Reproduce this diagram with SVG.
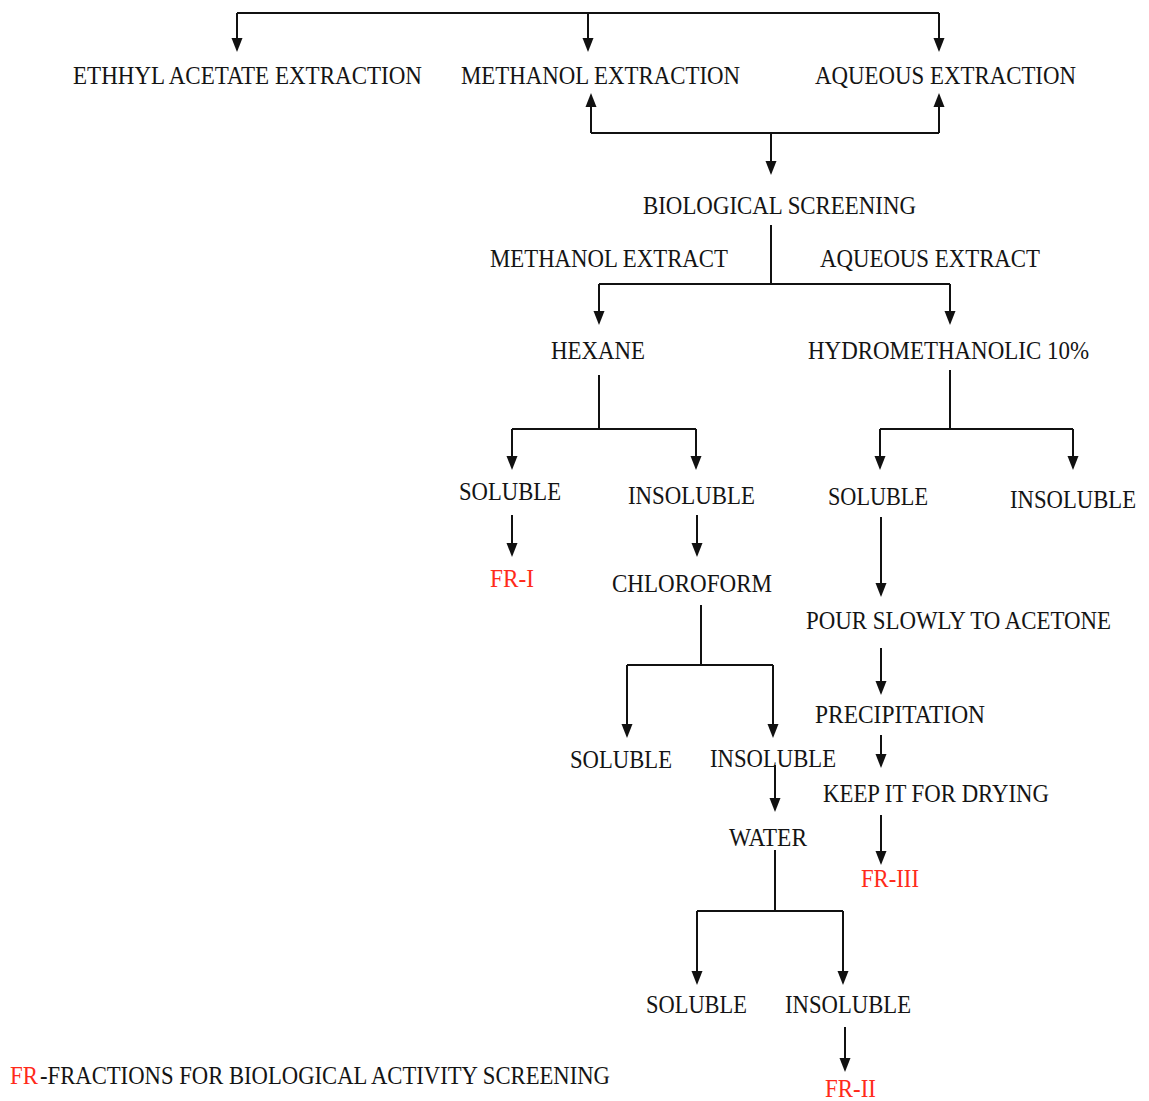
<svg xmlns="http://www.w3.org/2000/svg" width="1149" height="1101" viewBox="0 0 1149 1101">
  <style>
    .lbl { font-family: "Liberation Serif", "Times New Roman", serif; font-size: 25px; fill: #141414; text-anchor: middle; }
    .key { text-anchor: start; }
    .fr { fill: #ff2a1a; }
    .wire { fill: none; stroke: #111; stroke-width: 2; }
    .arr { marker-end: url(#head); }
  </style>
  <defs>
    <marker id="head" markerUnits="userSpaceOnUse" markerWidth="14" markerHeight="12" refX="8" refY="6" orient="auto">
      <path d="M0,0.5 L14,6 L0,11.5 z" fill="#111"/>
    </marker>
  </defs>
  <rect width="1149" height="1101" fill="#fff"/>

  <!-- connectors -->
  <g id="connectors">
    <path class="wire" d="M237,13 H939"/>
    <path class="wire arr" d="M237,13 V46"/>
    <path class="wire arr" d="M588,13 V46"/>
    <path class="wire arr" d="M939,13 V46"/>

    <path class="wire" d="M591,133 H939"/>
    <path class="wire arr" d="M591,133 V99"/>
    <path class="wire arr" d="M939,133 V99"/>
    <path class="wire arr" d="M771,133 V169"/>

    <path class="wire" d="M771,225 V284 M599,284 H950"/>
    <path class="wire arr" d="M599,284 V319"/>
    <path class="wire arr" d="M950,284 V319"/>

    <path class="wire" d="M599,375 V429 M512,429 H696"/>
    <path class="wire arr" d="M512,429 V464"/>
    <path class="wire arr" d="M696,429 V464"/>

    <path class="wire" d="M950,370 V429 M880,429 H1073"/>
    <path class="wire arr" d="M880,429 V464"/>
    <path class="wire arr" d="M1073,429 V464"/>

    <path class="wire arr" d="M512,515 V551"/>
    <path class="wire arr" d="M697,515 V551"/>

    <path class="wire" d="M701,605 V665 M627,665 H773"/>
    <path class="wire arr" d="M627,665 V732"/>
    <path class="wire arr" d="M773,665 V732"/>

    <path class="wire arr" d="M775,765 V806"/>
    <path class="wire" d="M775,850 V911 M697,911 H843"/>
    <path class="wire arr" d="M697,911 V979"/>
    <path class="wire arr" d="M843,911 V979"/>
    <path class="wire arr" d="M845,1027 V1066"/>

    <path class="wire arr" d="M881,517 V591"/>
    <path class="wire arr" d="M881,648 V689"/>
    <path class="wire arr" d="M881,735 V762"/>
    <path class="wire arr" d="M881,815 V859"/>
  </g>

  <!-- extraction row -->
  <g id="ethyl-acetate"><text class="lbl" x="247.5" y="84" textLength="349" lengthAdjust="spacingAndGlyphs">ETHHYL ACETATE EXTRACTION</text></g>
  <g id="methanol"><text class="lbl" x="600.5" y="84" textLength="279" lengthAdjust="spacingAndGlyphs">METHANOL EXTRACTION</text></g>
  <g id="aqueous"><text class="lbl" x="945.5" y="84" textLength="261" lengthAdjust="spacingAndGlyphs">AQUEOUS EXTRACTION</text></g>

  <g id="screening"><text class="lbl" x="779.5" y="214" textLength="273" lengthAdjust="spacingAndGlyphs">BIOLOGICAL SCREENING</text></g>
  <g id="methanol-extract"><text class="lbl" x="609" y="267" textLength="238" lengthAdjust="spacingAndGlyphs">METHANOL EXTRACT</text></g>
  <g id="aqueous-extract"><text class="lbl" x="930" y="267" textLength="220" lengthAdjust="spacingAndGlyphs">AQUEOUS EXTRACT</text></g>

  <g id="hexane"><text class="lbl" x="598" y="359" textLength="94" lengthAdjust="spacingAndGlyphs">HEXANE</text></g>
  <g id="hydromethanolic"><text class="lbl" x="948.5" y="359" textLength="281" lengthAdjust="spacingAndGlyphs">HYDROMETHANOLIC 10%</text></g>

  <!-- hexane branch -->
  <g id="hex-soluble"><text class="lbl" x="510" y="500" textLength="102" lengthAdjust="spacingAndGlyphs">SOLUBLE</text></g>
  <g id="hex-insoluble"><text class="lbl" x="691.5" y="504" textLength="127" lengthAdjust="spacingAndGlyphs">INSOLUBLE</text></g>
  <g id="fr-1"><text class="lbl fr" x="512" y="587" textLength="44" lengthAdjust="spacingAndGlyphs">FR-I</text></g>
  <g id="chloroform"><text class="lbl" x="692" y="592" textLength="160" lengthAdjust="spacingAndGlyphs">CHLOROFORM</text></g>

  <g id="chl-soluble"><text class="lbl" x="621" y="768" textLength="102" lengthAdjust="spacingAndGlyphs">SOLUBLE</text></g>
  <g id="chl-insoluble"><text class="lbl" x="773" y="767" textLength="126" lengthAdjust="spacingAndGlyphs">INSOLUBLE</text></g>
  <g id="water"><text class="lbl" x="768" y="846" textLength="78" lengthAdjust="spacingAndGlyphs">WATER</text></g>
  <g id="water-soluble"><text class="lbl" x="696.5" y="1013" textLength="101" lengthAdjust="spacingAndGlyphs">SOLUBLE</text></g>
  <g id="water-insoluble"><text class="lbl" x="848" y="1013" textLength="126" lengthAdjust="spacingAndGlyphs">INSOLUBLE</text></g>
  <g id="fr-2"><text class="lbl fr" x="850.5" y="1097" textLength="51" lengthAdjust="spacingAndGlyphs">FR-II</text></g>

  <!-- hydromethanolic branch -->
  <g id="hyd-soluble"><text class="lbl" x="878" y="505" textLength="100" lengthAdjust="spacingAndGlyphs">SOLUBLE</text></g>
  <g id="hyd-insoluble"><text class="lbl" x="1073" y="508" textLength="126" lengthAdjust="spacingAndGlyphs">INSOLUBLE</text></g>
  <g id="acetone"><text class="lbl" x="958.5" y="629" textLength="305" lengthAdjust="spacingAndGlyphs">POUR SLOWLY TO ACETONE</text></g>
  <g id="precipitation"><text class="lbl" x="900" y="723" textLength="170" lengthAdjust="spacingAndGlyphs">PRECIPITATION</text></g>
  <g id="drying"><text class="lbl" x="936" y="802" textLength="226" lengthAdjust="spacingAndGlyphs">KEEP IT FOR DRYING</text></g>
  <g id="fr-3"><text class="lbl fr" x="890" y="887" textLength="58" lengthAdjust="spacingAndGlyphs">FR-III</text></g>

  <!-- key -->
  <g id="legend">
    <text class="lbl key fr" x="10" y="1084" font-size="24" textLength="28" lengthAdjust="spacingAndGlyphs">FR</text>
    <text class="lbl key" x="40" y="1084" textLength="570" lengthAdjust="spacingAndGlyphs">-FRACTIONS FOR BIOLOGICAL ACTIVITY SCREENING</text>
  </g>
</svg>
